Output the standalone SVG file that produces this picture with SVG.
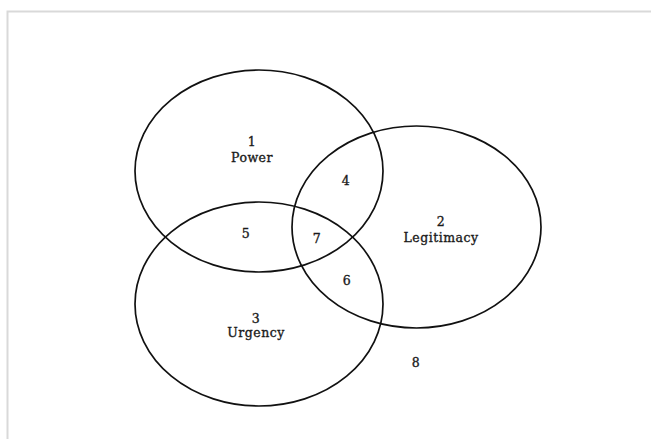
<svg xmlns="http://www.w3.org/2000/svg" width="651" height="439" viewBox="0 0 651 439">
<style>
.set{fill:none;stroke:#111;stroke-width:1.7}
.t{font-family:"DejaVu Serif",serif;font-size:12.5px;letter-spacing:0.5px;fill:#1a1a1a;stroke:#1a1a1a;stroke-width:0.35;text-anchor:middle}
</style>
<rect width="651" height="439" fill="#fff"/>
<path d="M7.5 439 V11.5 H651" fill="none" stroke="#d9d9d9" stroke-width="2"/>
<g id="connectors"></g>
<g id="power">
<ellipse class="set" cx="259" cy="171" rx="124" ry="101"/>
<text class="t" x="252" y="146">1</text>
<text class="t" x="252" y="162">Power</text>
</g>
<g id="legitimacy">
<ellipse class="set" cx="416.5" cy="227" rx="124.5" ry="101"/>
<text class="t" x="441" y="226">2</text>
<text class="t" x="441" y="242">Legitimacy</text>
</g>
<g id="urgency">
<ellipse class="set" cx="259" cy="304" rx="124" ry="102"/>
<text class="t" x="256" y="323">3</text>
<text class="t" x="256" y="337">Urgency</text>
</g>
<g id="regions">
<text class="t" x="346" y="185">4</text>
<text class="t" x="246" y="238">5</text>
<text class="t" x="347" y="285">6</text>
<text class="t" x="317" y="243">7</text>
<text class="t" x="416" y="367">8</text>
</g>
</svg>
